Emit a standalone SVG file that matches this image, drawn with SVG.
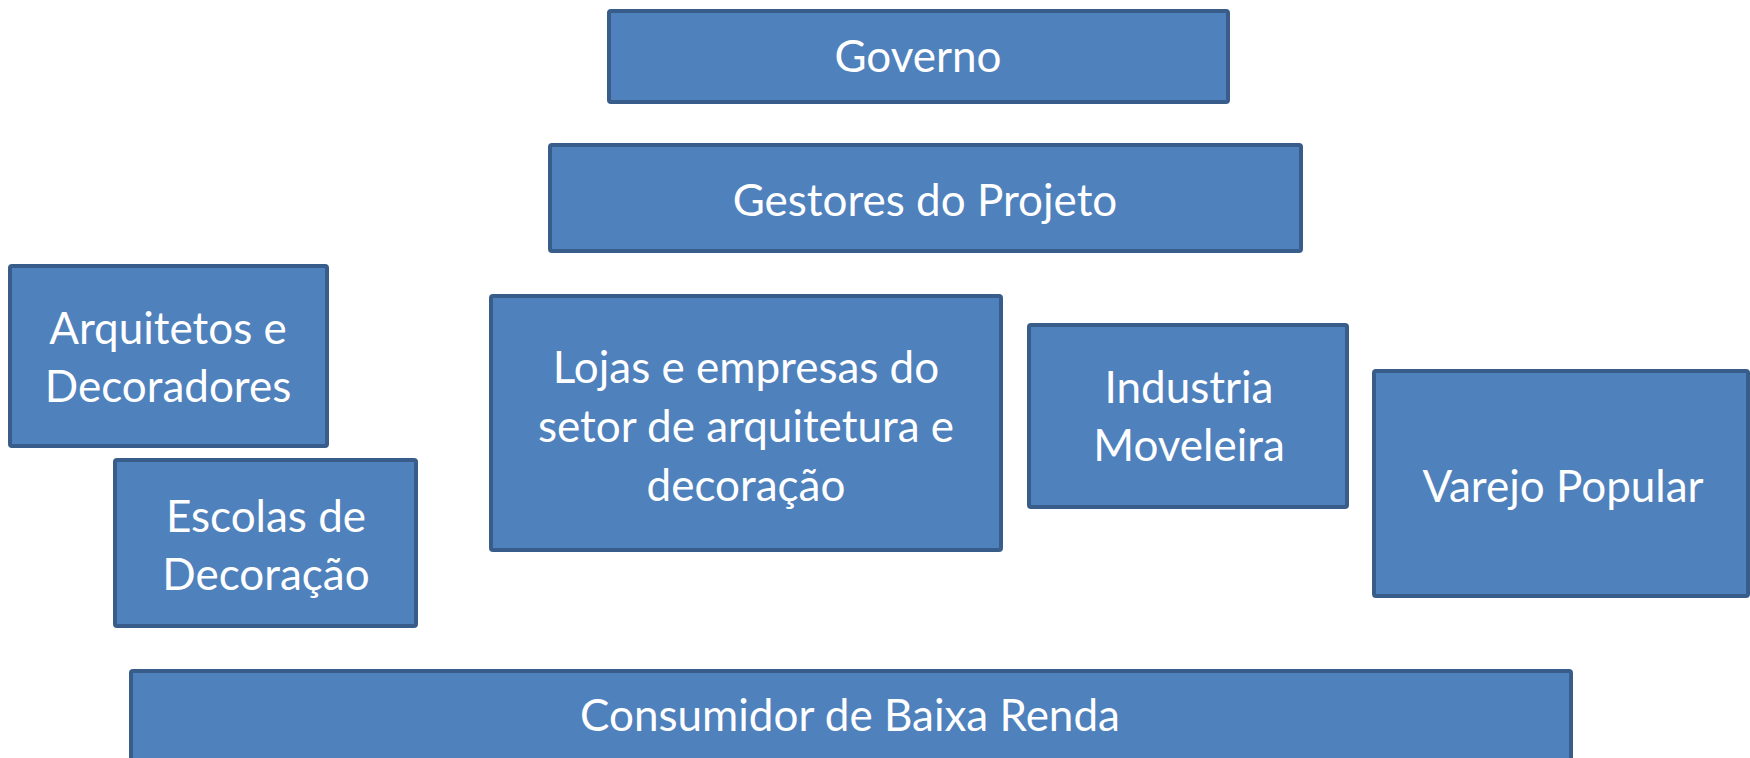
<svg xmlns="http://www.w3.org/2000/svg" width="1750" height="758" viewBox="0 0 1750 758">
<style>
.box{fill:#4F81BD;stroke:#385D8A;stroke-width:4}
.t{font-family:Lato,"Open Sans","Liberation Sans",sans-serif;font-size:44px;fill:#FFFFFF;text-anchor:middle}
</style>
<rect width="1750" height="758" fill="#FFFFFF"/>
<g id="connectors"/>
<g id="governo"><rect class="box" x="609" y="11" width="619" height="91" rx="2"/><text class="t" x="918" y="72">Governo</text></g>
<g id="gestores"><rect class="box" x="550" y="145" width="751" height="106" rx="2"/><text class="t" x="925" y="216">Gestores do Projeto</text></g>
<g id="arquitetos"><rect class="box" x="10" y="266" width="317" height="180" rx="2"/><text class="t" x="168" y="344">Arquitetos e</text><text class="t" x="168" y="402">Decoradores</text></g>
<g id="escolas"><rect class="box" x="115" y="460" width="301" height="166" rx="2"/><text class="t" x="266" y="532">Escolas de</text><text class="t" x="266" y="590">Decoração</text></g>
<g id="lojas"><rect class="box" x="491" y="296" width="510" height="254" rx="2"/><text class="t" x="746" y="383">Lojas e empresas do</text><text class="t" x="746" y="442">setor de arquitetura e</text><text class="t" x="746" y="501">decoração</text></g>
<g id="industria"><rect class="box" x="1029" y="325" width="318" height="182" rx="2"/><text class="t" x="1189" y="403">Industria</text><text class="t" x="1189" y="461">Moveleira</text></g>
<g id="varejo"><rect class="box" x="1374" y="371" width="374" height="225" rx="2"/><text class="t" x="1563" y="502">Varejo Popular</text></g>
<g id="consumidor"><rect class="box" x="131" y="671" width="1440" height="100" rx="2"/><text class="t" x="850" y="731">Consumidor de Baixa Renda</text></g>
</svg>
